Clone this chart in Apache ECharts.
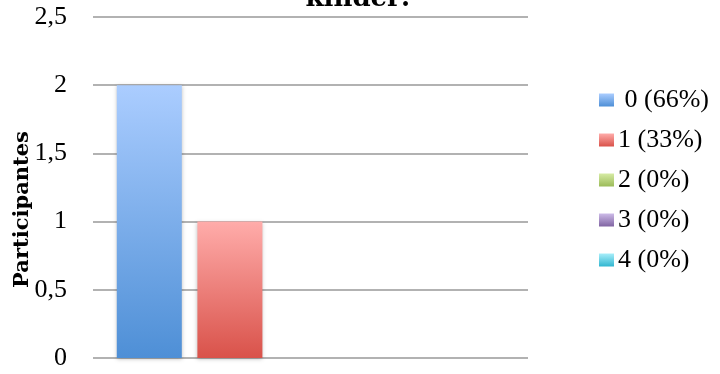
<!DOCTYPE html>
<html><head><meta charset="utf-8">
<script src="https://cdn.jsdelivr.net/npm/echarts@6/dist/echarts.min.js"></script>
<style>html,body{margin:0;padding:0;background:#fff}#c{width:720px;height:374px}</style>
</head><body><div id="c"></div>
<script>
const categories = [''];
const seriesNames = [' 0 (66%)', '1 (33%)', '2 (0%)', '3 (0%)', '4 (0%)'];
const seriesValues = [2, 1, 0, 0, 0];
const titleText = 'kinder:';
const yAxisName = 'Participantes';

const gradients = [
  ['#abcdff', '#4e8fd6'],
  ['#ffacaa', '#d9524a'],
  ['#d6eba4', '#9bbb59'],
  ['#cdbbe8', '#8064a2'],
  ['#a8eefa', '#31b6d0']
];
const serif = '"Liberation Serif", "DejaVu Serif", serif';
const serifBold = '"DejaVu Serif", "Liberation Serif", serif';

const chart = echarts.init(document.getElementById('c'));
chart.setOption({
  animation: false,
  title: {
    text: titleText, left: 353, top: -19, textAlign: 'center',
    textStyle: { fontFamily: serifBold, fontWeight: 'bold', fontSize: 26, color: '#000' }
  },
  grid: { left: 93, right: 192, top: 17, bottom: 16, outerBoundsMode: 'none', containLabel: false },
  legend: {
    orient: 'vertical', left: 599, top: 87, padding: 0, itemWidth: 15, itemHeight: 13, itemGap: 14,
    textStyle: { fontFamily: serif, fontSize: 26, lineHeight: 26, color: '#000', padding: [0, 0, 0, -1] },
    icon: 'rect',
    data: seriesNames
  },
  xAxis: {
    type: 'category', data: categories,
    axisLine: { show: false }, axisTick: { show: false }, axisLabel: { show: false }
  },
  yAxis: {
    type: 'value', min: 0, max: 2.5, interval: 0.5,
    name: yAxisName, nameLocation: 'middle', nameGap: 60, nameRotate: 90, nameMoveOverlap: false,
    nameTextStyle: { fontFamily: serifBold, fontWeight: 'bold', fontSize: 21, color: '#000',
      padding: [0, 44, 0, 0] },
    axisLine: { show: false }, axisTick: { show: false },
    axisLabel: { fontFamily: serif, fontSize: 26, color: '#000', margin: 26,
      formatter: v => String(v).replace('.', ',') },
    splitLine: { lineStyle: { color: '#999', width: 1.5 } }
  },
  series: seriesNames.map((n, i) => ({
    name: n, type: 'bar', data: [seriesValues[i]],
    barWidth: 65, barGap: '24%',
    itemStyle: {
      color: new echarts.graphic.LinearGradient(0, 0, 0, 1, [
        { offset: 0, color: gradients[i][0] }, { offset: 1, color: gradients[i][1] }
      ]),
      shadowColor: 'rgba(0,0,0,0.25)', shadowBlur: 4, shadowOffsetY: 1
    }
  }))
});
</script></body></html>
